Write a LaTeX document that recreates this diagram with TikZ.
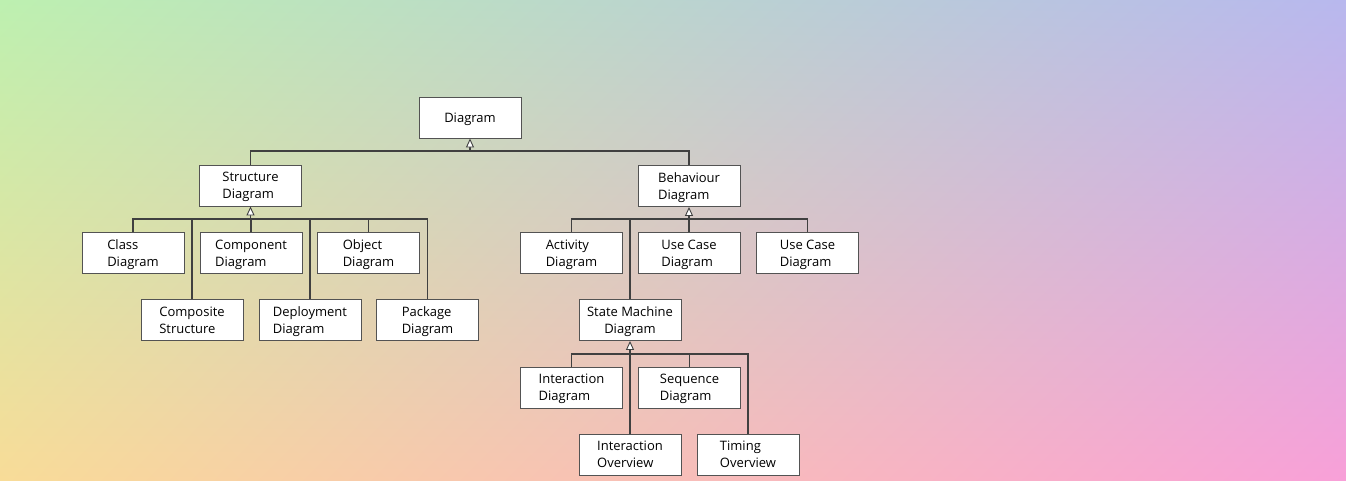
\documentclass[tikz,border=0pt]{standalone}
\usepackage{fontspec}
\setmainfont{Open Sans}
\usetikzlibrary{arrows.meta,shadings}
\definecolor{bgtl}{HTML}{BDF0B0}
\definecolor{bgtr}{HTML}{B8B8EE}
\definecolor{bgbl}{HTML}{F8DC98}
\definecolor{bgbr}{HTML}{F8A0D8}
\definecolor{edge}{HTML}{404040}
\tikzset{
  box/.style={draw=edge!90, fill=white, line width=0.9pt, minimum width=102pt,
    minimum height=41pt, inner sep=0pt, align=left, text depth=-1pt,
    font=\fontsize{13}{17}\selectfont},
  link/.style={draw=edge, line width=1.4pt},
  gen/.style={link, -{Triangle[width=8pt,length=9pt,fill=white,line width=0.9pt]}}
}
\begin{document}
\begin{tikzpicture}[x=1pt,y=-1pt]
      \shade[upper left=bgtl, upper right=bgtr, lower left=bgbl, lower right=bgbr]
        (0,0) rectangle (1346,480);
      \useasboundingbox (0,0) rectangle (1346,480);
      \node[box] (diag) at (470,117.5) {Diagram};
      \node[box] (struct) at (250.5,185.5) {Structure\\Diagram};
      \node[box] (behav) at (689,186) {Behaviour\\Diagram};
      \node[box] (class) at (133,253) {Class\\Diagram};
      \node[box] (comp) at (251,253) {Component\\Diagram};
      \node[box] (obj) at (368.5,253) {Object\\Diagram};
      \node[box] (compo) at (192,320) {Composite\\Structure};
      \node[box] (deploy) at (310,320) {Deployment\\Diagram};
      \node[box] (pack) at (427.5,320) {Package\\Diagram};
      \node[box] (act) at (571.5,253) {Activity\\Diagram};
      \node[box] (ucase) at (689,253) {Use Case\\Diagram};
      \node[box] (ucase2) at (807.5,253) {Use Case\\Diagram};
      \node[box, align=center] (state) at (630,320) {State Machine\\Diagram};
      \node[box] (inter) at (571.5,387.5) {Interaction\\Diagram};
      \node[box] (seq) at (689.5,387.5) {Sequence\\Diagram};
      \node[box] (iover) at (630,454.5) {Interaction\\Overview};
      \node[box] (timing) at (748,454.5) {Timing\\Overview};
      \coordinate (tbus) at (0,151);
      \coordinate (sbus) at (0,219);
      \coordinate (bbus) at (0,219);
      \coordinate (mbus) at (0,354);
      \begin{scope}[link]
        \draw (struct.north) |- (behav.north |- tbus) -- (behav.north);
        \draw (class.north) |- (pack.north |- sbus) -- (pack.north);
        \draw (compo.north) -- (compo.north |- sbus);
        \draw (comp.north) -- (comp.north |- sbus);
        \draw (deploy.north) -- (deploy.north |- sbus);
        \draw (obj.north) -- (obj.north |- sbus);
        \draw (act.north) |- (ucase2.north |- bbus) -- (ucase2.north);
        \draw (state.north) -- (state.north |- bbus);
        \draw (ucase.north) -- (ucase.north |- bbus);
        \draw (inter.north) |- (timing.north |- mbus) -- (timing.north);
        \draw (seq.north) -- (seq.north |- mbus);
        \draw (iover.north) -- (iover.north |- mbus);
      \end{scope}
      \begin{scope}[gen]
        \draw (diag.south |- tbus) -- (diag.south);
        \draw (struct.south |- sbus) -- (struct.south);
        \draw (behav.south |- bbus) -- (behav.south);
        \draw (state.south |- mbus) -- (state.south);
      \end{scope}
    \end{tikzpicture}
\end{document}
